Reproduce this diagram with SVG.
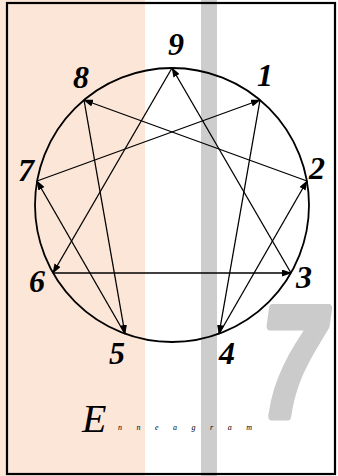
<svg xmlns="http://www.w3.org/2000/svg" width="338" height="476" viewBox="0 0 338 476">
<style>
.num{font-family:"Liberation Serif",serif;font-weight:bold;font-style:italic;font-size:32px;fill:#000;text-anchor:middle}
.ln{stroke:#000;stroke-width:1.3;fill:none;marker-end:url(#ah)}
</style>
<defs>
<marker id="ah" markerUnits="userSpaceOnUse" markerWidth="10" markerHeight="7" refX="9" refY="3.5" orient="auto">
<path d="M0,0 L10,3.5 L0,7 z" fill="#000"/>
</marker>
</defs>
<g id="background">
<rect x="0" y="0" width="338" height="476" fill="#fff"/>
<rect x="0" y="0" width="145" height="476" fill="#fbe6d8"/>
<rect x="201" y="0" width="16" height="476" fill="#cdcdcd"/>
<text transform="translate(262,416) scale(0.72,1)" font-family="'Liberation Sans',sans-serif" font-weight="bold" font-style="italic" font-size="156" fill="#cbcbcb" stroke="#cbcbcb" stroke-width="9" stroke-linejoin="round">7</text>
<rect x="7" y="3" width="328" height="471" fill="none" stroke="#000" stroke-width="2.2"/>
</g>
<g id="circle"><circle cx="172" cy="205" r="137" fill="none" stroke="#000" stroke-width="1.8"/></g>
<g id="connectors">
<line class="ln" x1="37" y1="181" x2="260" y2="100"/>
<line class="ln" x1="260" y1="100" x2="219" y2="334"/>
<line class="ln" x1="219" y1="334" x2="307" y2="181"/>
<line class="ln" x1="307" y1="181" x2="84" y2="100"/>
<line class="ln" x1="84" y1="100" x2="125" y2="334"/>
<line class="ln" x1="125" y1="334" x2="37" y2="181"/>
<line class="ln" x1="291" y1="273" x2="172" y2="68"/>
<line class="ln" x1="172" y1="68" x2="53" y2="273"/>
<line class="ln" x1="53" y1="273" x2="291" y2="273"/>
</g>
<g id="n9"><text class="num" x="176" y="55">9</text></g>
<g id="n1"><text class="num" x="265" y="86">1</text></g>
<g id="n2"><text class="num" x="317" y="179">2</text></g>
<g id="n3"><text class="num" x="304" y="288">3</text></g>
<g id="n4"><text class="num" x="227" y="364">4</text></g>
<g id="n5"><text class="num" x="117" y="364">5</text></g>
<g id="n6"><text class="num" x="37" y="292">6</text></g>
<g id="n7"><text class="num" x="26" y="181">7</text></g>
<g id="n8"><text class="num" x="81" y="88">8</text></g>
<g id="title">
<text x="82" y="432" font-family="'Liberation Serif',serif" font-style="italic" font-size="40" fill="#000">E</text>
<text x="118" y="430" font-family="'Liberation Serif',serif" font-style="italic" font-size="8" fill="#000" textLength="134" lengthAdjust="spacing">nneagram</text>
</g>
</svg>
